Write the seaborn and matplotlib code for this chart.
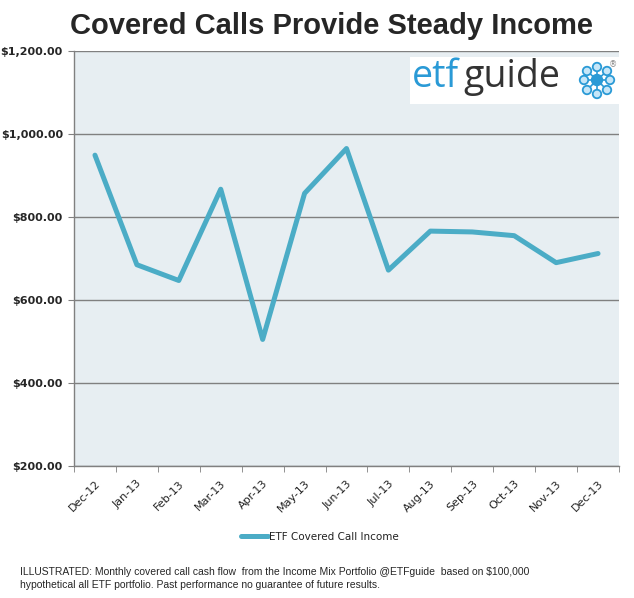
import matplotlib.pyplot as plt
import matplotlib.ticker as mticker
import pandas as pd
import seaborn as sns
from matplotlib.patches import Rectangle, Ellipse

# data
months = ['Dec-12', 'Jan-13', 'Feb-13', 'Mar-13', 'Apr-13', 'May-13', 'Jun-13',
          'Jul-13', 'Aug-13', 'Sep-13', 'Oct-13', 'Nov-13', 'Dec-13']
income = [949, 685, 647, 867, 505, 857, 965, 672, 766, 764, 755, 690, 712]
y_ticks = [200, 400, 600, 800, 1000, 1200]
series_name = 'ETF Covered Call Income'

df = pd.DataFrame({'Month': months, 'Income': income})

sns.set_style('white')
plt.rcParams['font.family'] = ['DejaVu Sans']

W, H = 634, 598
fig = plt.figure(figsize=(W / 100, H / 100), dpi=100)
ax = fig.add_axes([74 / W, 1 - 466 / H, 545 / W, 415 / H])
ax.set_facecolor('#E7EEF2')

sns.lineplot(data=df, x='Month', y='Income', ax=ax, color='#4BACC6',
             linewidth=3.6, label=series_name, sort=False)

ax.set_xlim(-0.5, len(months) - 0.5)
ax.set_ylim(y_ticks[0], y_ticks[-1])
ax.set_yticks(y_ticks)
ax.yaxis.set_major_formatter(mticker.FuncFormatter(lambda v, p: f'${v:,.2f}'))
ax.grid(axis='y', color='#808080', linewidth=1)
ax.set_axisbelow(True)

ax.set_xticks(range(len(months)))
ax.set_xticklabels(months, rotation=45, ha='right', rotation_mode='anchor',
                   fontsize=8, color='#222222')
ax.xaxis.set_minor_locator(mticker.FixedLocator([i - 0.5 for i in range(len(months) + 1)]))
ax.tick_params(axis='x', which='major', length=0, pad=9)
ax.tick_params(axis='x', which='minor', length=4, color='#808080', bottom=True)
ax.tick_params(axis='y', length=4, color='#808080', left=True, pad=4)
for lab in ax.get_yticklabels():
    lab.set_fontweight('bold')
    lab.set_fontsize(8)

ax.set_xlabel('')
ax.set_ylabel('')
for s in ['top', 'right']:
    ax.spines[s].set_visible(False)
for s in ['left', 'bottom']:
    ax.spines[s].set_color('#808080')
    ax.spines[s].set_linewidth(1)

leg = ax.legend(loc='center', bbox_to_anchor=(320 / W, 1 - 537 / H),
                bbox_transform=fig.transFigure, frameon=False,
                fontsize=7.5, handlelength=2.6, handletextpad=0.1)
for t in leg.get_texts():
    t.set_color('#222222')

fig.text(331 / W, 1 - 26 / H, 'Covered Calls Provide Steady Income', ha='center', va='center',
         fontsize=21, fontweight='bold', family=['Liberation Sans', 'DejaVu Sans'])

note1 = 'ILLUSTRATED: Monthly covered call cash flow  from the Income Mix Portfolio @ETFguide  based on $100,000'
note2 = 'hypothetical all ETF portfolio. Past performance no guarantee of future results.'
fig.text(20 / W, 1 - 572 / H, note1, ha='left', va='center', fontsize=7.5,
         family=['Liberation Sans', 'DejaVu Sans'])
fig.text(20 / W, 1 - 585 / H, note2, ha='left', va='center', fontsize=7.5,
         family=['Liberation Sans', 'DejaVu Sans'])

# etfguide logo box
fig.patches.append(Rectangle((410 / W, 1 - 104 / H), 209 / W, 47 / H,
                             transform=fig.transFigure, facecolor='white', edgecolor='none', zorder=1))
fig.text(412 / W, 1 - 87 / H, 'etf', color='#2A9AD6', fontsize=27, va='baseline',
         family=['Open Sans', 'DejaVu Sans'], zorder=3)
fig.text(463 / W, 1 - 87 / H, 'guide', color='#333333', fontsize=27, va='baseline',
         family=['Open Sans', 'DejaVu Sans'], zorder=3)
cx, cy = 597, 80
nodes = [(-10, -9), (0, -13), (10, -9), (-13, 0), (13, 0), (-10, 10), (0, 14), (10, 10)]
for dx, dy in nodes:
    fig.add_artist(plt.Line2D([cx / W, (cx + dx) / W], [1 - cy / H, 1 - (cy + dy) / H],
                              color='#2A9AD6', linewidth=1.2, transform=fig.transFigure, zorder=4))
    fig.add_artist(Ellipse(((cx + dx) / W, 1 - (cy + dy) / H), 8.5 / W, 8.5 / H,
                           transform=fig.transFigure, facecolor='#C6E6F8', edgecolor='#2A9AD6',
                           linewidth=1.3, zorder=5))
fig.add_artist(Ellipse((cx / W, 1 - cy / H), 11 / W, 11 / H, transform=fig.transFigure,
                       facecolor='#2A9AD6', edgecolor='#2A9AD6', zorder=6))
fig.text(613 / W, 1 - 65 / H, '®', fontsize=6, color='#888888', ha='center', va='center', zorder=6)

plt.savefig('out.png', dpi=100)
